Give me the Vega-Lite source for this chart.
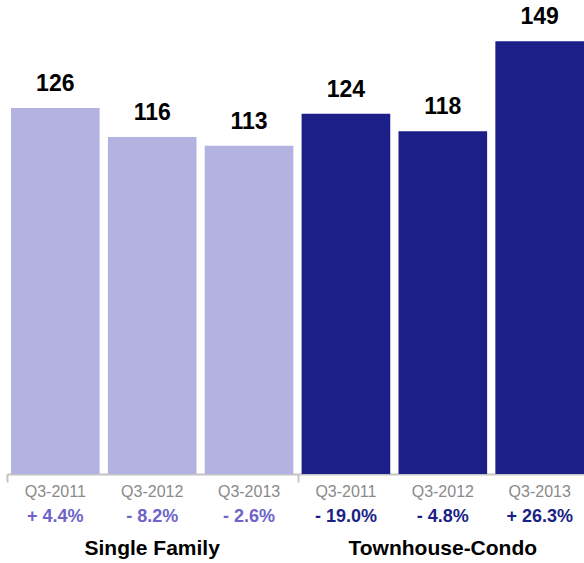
{
  "$schema": "https://vega.github.io/schema/vega-lite/v6.json",
  "autosize": "none",
  "width": 577,
  "height": 474,
  "padding": {"left": 7, "top": 0, "right": 0, "bottom": 89},
  "background": "white",
  "config": {"view": {"stroke": null}, "font": "Liberation Sans"},
  "datasets": {
    "bars": [
      {"key": "SF Q3-2011", "period": "Q3-2011", "group": "Single Family", "value": 126, "change": "+ 4.4%"},
      {"key": "SF Q3-2012", "period": "Q3-2012", "group": "Single Family", "value": 116, "change": "- 8.2%"},
      {"key": "SF Q3-2013", "period": "Q3-2013", "group": "Single Family", "value": 113, "change": "- 2.6%"},
      {"key": "TC Q3-2011", "period": "Q3-2011", "group": "Townhouse-Condo", "value": 124, "change": "- 19.0%"},
      {"key": "TC Q3-2012", "period": "Q3-2012", "group": "Townhouse-Condo", "value": 118, "change": "- 4.8%"},
      {"key": "TC Q3-2013", "period": "Q3-2013", "group": "Townhouse-Condo", "value": 149, "change": "+ 26.3%"}
    ],
    "groups": [
      {"key": "SF Q3-2012", "group": "Single Family"},
      {"key": "TC Q3-2012", "group": "Townhouse-Condo"}
    ]
  },
  "layer": [
    {
      "data": {"name": "bars"},
      "mark": {"type": "bar"},
      "encoding": {
        "x": {
          "field": "key", "type": "nominal", "sort": null,
          "scale": {"paddingInner": 0.085, "paddingOuter": 0.0206, "align": 1},
          "axis": {
            "title": null, "labels": false,
            "values": ["SF Q3-2011", "TC Q3-2011"],
            "bandPosition": 0, "tickOffset": -4,
            "domainColor": "#c4c4c4", "domainWidth": 2,
            "tickColor": "#c4c4c4", "tickWidth": 2, "tickSize": 8
          }
        },
        "y": {"field": "value", "type": "quantitative", "scale": {"domain": [0, 163.2], "nice": false, "zero": true}, "axis": null},
        "color": {
          "field": "group", "type": "nominal",
          "scale": {"domain": ["Single Family", "Townhouse-Condo"], "range": ["#b4b2e1", "#1b1f87"]},
          "legend": null
        }
      }
    },
    {
      "data": {"name": "bars"},
      "mark": {"type": "text", "fontWeight": "bold", "fontSize": 23, "color": "#000000", "baseline": "alphabetic", "dy": -17},
      "encoding": {
        "x": {"field": "key", "type": "nominal", "sort": null},
        "y": {"field": "value", "type": "quantitative"},
        "text": {"field": "value", "type": "quantitative"}
      }
    },
    {
      "data": {"name": "bars"},
      "mark": {"type": "text", "fontSize": 16, "color": "#8a8a8a", "baseline": "middle", "dy": 18},
      "encoding": {
        "x": {"field": "key", "type": "nominal", "sort": null},
        "y": {"datum": 0, "type": "quantitative"},
        "text": {"field": "period", "type": "nominal"}
      }
    },
    {
      "data": {"name": "bars"},
      "mark": {"type": "text", "fontSize": 18, "fontWeight": "bold", "baseline": "middle", "dy": 43},
      "encoding": {
        "x": {"field": "key", "type": "nominal", "sort": null},
        "y": {"datum": 0, "type": "quantitative"},
        "text": {"field": "change", "type": "nominal"},
        "color": {
          "field": "group", "type": "nominal",
          "scale": {"domain": ["Single Family", "Townhouse-Condo"], "range": ["#6e64c8", "#1b1f87"]},
          "legend": null
        }
      }
    },
    {
      "data": {"name": "groups"},
      "mark": {"type": "text", "fontSize": 21, "fontWeight": "bold", "color": "#000000", "baseline": "middle", "dy": 75},
      "encoding": {
        "x": {"field": "key", "type": "nominal", "sort": null},
        "y": {"datum": 0, "type": "quantitative"},
        "text": {"field": "group", "type": "nominal"}
      }
    }
  ],
  "resolve": {"scale": {"color": "independent"}}
}
